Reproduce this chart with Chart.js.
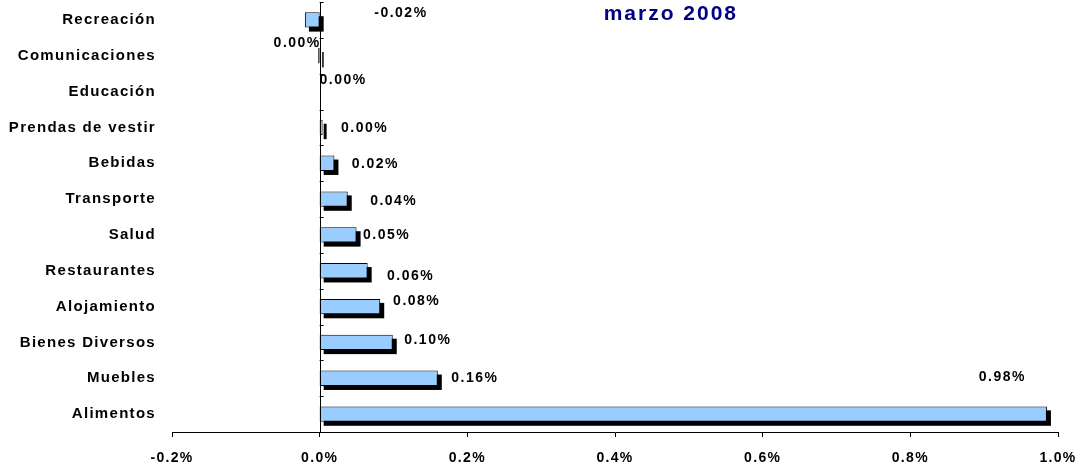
<!DOCTYPE html>
<html><head><meta charset="utf-8">
<script src="https://cdn.jsdelivr.net/npm/chart.js@4/dist/chart.umd.min.js"></script>
<style>html,body{margin:0;padding:0;background:#fff;}canvas{display:block;}</style>
</head><body>
<canvas id="c" width="1082" height="464"></canvas>
<script>
const categories = ['Recreación','Comunicaciones','Educación','Prendas de vestir','Bebidas','Transporte','Salud','Restaurantes','Alojamiento','Bienes Diversos','Muebles','Alimentos'];
const values = [-0.02, -0.002, 0, 0.004, 0.02, 0.038, 0.05, 0.065, 0.082, 0.099, 0.16, 0.985];
const valueLabels = ['-0.02%','0.00%','0.00%','0.00%','0.02%','0.04%','0.05%','0.06%','0.08%','0.10%','0.16%','0.98%'];
const xMin = -0.2, xMax = 1.0, xStep = 0.2;
const chartTitle = 'marzo 2008';
// label offsets from the bar end (layout only)
const labelDx = [96, -21, 23.5, 42, 41, 46, 30, 43, 36.5, 35, 37, -44.5];
const labelDy = [-6.5, -12.7, -11.6, 0.6, 0.8, 1.6, 0, 5.3, -5.6, -2.4, 0, -37];

const FONT = '"Liberation Sans", Arial, sans-serif';

const spacingPlugin = {
  id: 'spacing',
  beforeDraw(chart) { chart.ctx.letterSpacing = '1.3px'; }
};
const shadowPlugin = {
  id: 'shadow',
  beforeDatasetsDraw(chart) {
    const ctx = chart.ctx;
    const meta = chart.getDatasetMeta(0);
    ctx.save();
    ctx.fillStyle = '#000';
    meta.data.forEach(el => {
      const p = el.getProps(['x','y','base','height'], true);
      const l = Math.min(p.x, p.base), r = Math.max(p.x, p.base);
      if (r - l < 0.1) return;
      ctx.fillRect(l + 4, p.y - p.height / 2 + 4, r - l, p.height);
    });
    ctx.restore();
  }
};
const axisPlugin = {
  id: 'axisTicks',
  afterDatasetsDraw(chart) {
    const ctx = chart.ctx, a = chart.chartArea;
    const x0 = chart.scales.x.getPixelForValue(0);
    ctx.save();
    ctx.strokeStyle = '#000';
    ctx.lineWidth = 1;
    ctx.beginPath();
    ctx.moveTo(Math.round(x0) + 0.5, a.top);
    ctx.lineTo(Math.round(x0) + 0.5, a.bottom);
    const n = categories.length, step = (a.bottom - a.top) / n;
    for (let i = 0; i < n; i++) {
      const y = Math.round(a.top + i * step) + 0.5;
      ctx.moveTo(x0, y); ctx.lineTo(x0 + 4, y);
    }
    ctx.stroke();
    ctx.restore();
  }
};
const labelPlugin = {
  id: 'valLabels',
  afterDatasetsDraw(chart) {
    const ctx = chart.ctx;
    const meta = chart.getDatasetMeta(0);
    ctx.save();
    ctx.font = 'bold 14px ' + FONT;
    ctx.letterSpacing = '1.5px';
    ctx.fillStyle = '#000';
    ctx.textAlign = 'center';
    ctx.textBaseline = 'middle';
    meta.data.forEach((el, i) => {
      const p = el.getProps(['x','y'], true);
      ctx.fillText(valueLabels[i], p.x + labelDx[i], p.y + labelDy[i]);
    });
    ctx.restore();
  }
};
const titlePlugin = {
  id: 'customTitle',
  afterDraw(chart) {
    const ctx = chart.ctx;
    ctx.save();
    ctx.font = 'bold 21px ' + FONT;
    ctx.letterSpacing = '2px';
    ctx.fillStyle = '#000080';
    ctx.textAlign = 'center';
    ctx.textBaseline = 'middle';
    ctx.fillText(chartTitle, chart.width * 0.62, 14);
    ctx.restore();
  }
};

new Chart(document.getElementById('c'), {
  type: 'bar',
  data: {
    labels: categories,
    datasets: [{
      data: values,
      backgroundColor: '#99CCFF',
      borderColor: '#000',
      borderWidth: 1,
      borderSkipped: false,
      barPercentage: 0.43,
      categoryPercentage: 1
    }]
  },
  options: {
    indexAxis: 'y',
    responsive: false,
    animation: false,
    layout: { padding: { top: 2, right: 24, bottom: 0, left: 0 } },
    plugins: { legend: { display: false }, tooltip: { enabled: false }, title: { display: false } },
    scales: {
      x: {
        min: xMin, max: xMax,
        grid: {
          color: 'rgba(0,0,0,0)',
          tickColor: '#000',
          tickLength: 5,
          drawOnChartArea: false
        },
        border: { display: true, color: '#000', width: 1 },
        ticks: {
          stepSize: xStep,
          padding: 13,
          color: '#000',
          font: { family: FONT, size: 14, weight: 'bold' },
          callback: v => (Math.abs(v) < 1e-9 ? 0 : Number(v)).toFixed(1) + '%',
          maxRotation: 0
        },
        afterFit: s => { s.height = 32; s.paddingLeft = 0; s.paddingRight = 0; }
      },
      y: {
        grid: { display: false },
        border: { display: false },
        ticks: {
          padding: 8,
          color: '#000',
          font: { family: FONT, size: 15, weight: 'bold' }
        },
        afterFit: s => { s.width = 172; s.paddingTop = 0; s.paddingBottom = 0; }
      }
    }
  },
  plugins: [spacingPlugin, shadowPlugin, axisPlugin, labelPlugin, titlePlugin]
});
</script>
</body></html>
